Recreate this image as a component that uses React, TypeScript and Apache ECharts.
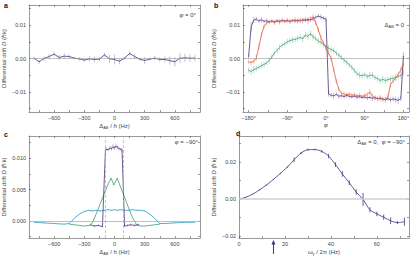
import React, { useEffect, useRef } from "react";
import * as echarts from "echarts";

const FONT = "Liberation Sans, Arial, Helvetica, sans-serif";
const PURPLE = "#4b2d7a";
const ORANGE = "#e8583c";
const GREEN = "#3b9a6d";
const TEAL = "#2a9cbf";
const PURPLE_ERR = "#b7a8d2";
const ORANGE_ERR = "#f3ad9b";
const GREEN_ERR = "#a6d6bd";
const TEAL_ERR = "#9fd3e6";

// ---------- Panel a: phi = 0 ----------
const aDetuning = [-800, -750, -700, -650, -600, -550, -500, -450, -400, -350, -300, -250, -200, -150, -100, -50, 0, 50, 100, 150, 200, 250, 300, 350, 400, 450, 500, 550, 600, 650, 700, 750, 800];
const aDrift = [0.0001, -0.001, 0.0, 0.0006, 0.0013, 0.0003, 0.0007, 0.0006, 0.0001, -0.0001, -0.0005, -0.0001, -0.0003, -0.0002, 0.0011, -0.0001, -0.0003, -0.0008, 0.0001, 0.0015, 0.0006, -0.0002, -0.0006, -0.0002, 0.0001, -0.0003, -0.0003, -0.0006, -0.001, 0.0001, 0.0002, 0.0001, 0.0001];
const aError = [0.0005, 0.0006, 0.0006, 0.0008, 0.0007, 0.0008, 0.0009, 0.0006, 0.0004, 0.0005, 0.0005, 0.0008, 0.0009, 0.0006, 0.0006, 0.0012, 0.0015, 0.0008, 0.0005, 0.0006, 0.0007, 0.0005, 0.001, 0.0005, 0.0006, 0.0007, 0.0009, 0.0012, 0.0014, 0.0015, 0.0012, 0.0011, 0.0009];

// ---------- Panel b: Delta_AB = 0 ----------
const bPhi = [-180, -174, -168, -162, -156, -150, -144, -138, -132, -126, -120, -114, -108, -102, -96, -90, -84, -78, -72, -66, -60, -54, -48, -42, -36, -30, -24, -18, -12, -6, 0, 6, 12, 18, 24, 30, 36, 42, 48, 54, 60, 66, 72, 78, 84, 90, 96, 102, 108, 114, 120, 126, 132, 138, 144, 150, 156, 162, 168, 174, 180];
const bPurple = [
  0.0005, 0.0095, 0.0115, 0.0118, 0.0112, 0.0116, 0.0111, 0.0113, 0.0109, 0.0112,
  0.0110, 0.0113, 0.0111, 0.0114, 0.0112, 0.0113, 0.0111, 0.0114, 0.0112, 0.0115,
  0.0113, 0.0116, 0.0114, 0.0117, 0.0115, 0.0119, 0.0123, 0.0127, 0.0124, 0.0121,
  0.0118, -0.0106, -0.0110, -0.0112, -0.0107, -0.0113, -0.0111, -0.0114, -0.0110, -0.0113,
  -0.0115, -0.0112, -0.0116, -0.0114, -0.0117, -0.0115, -0.0118, -0.0116, -0.0119, -0.0117,
  -0.0120, -0.0118, -0.0121, -0.0123, -0.0120, -0.0124, -0.0121, -0.0123, -0.0125, -0.0120,
  0.0008,
];
const bPurpleErr = [
  0.0006, 0.0015, 0.0009, 0.0007, 0.0006, 0.0008, 0.0005, 0.0007, 0.0006, 0.0005,
  0.0006, 0.0005, 0.0007, 0.0006, 0.0005, 0.0006, 0.0007, 0.0005, 0.0006, 0.0005,
  0.0006, 0.0005, 0.0006, 0.0007, 0.0006, 0.0008, 0.0006, 0.0007, 0.0008, 0.0006,
  0.0007, 0.0008, 0.0007, 0.0009, 0.0006, 0.0008, 0.0007, 0.0006, 0.0007, 0.0006,
  0.0005, 0.0006, 0.0007, 0.0006, 0.0005, 0.0006, 0.0007, 0.0006, 0.0008, 0.0007,
  0.0006, 0.0008, 0.0007, 0.0009, 0.0006, 0.0008, 0.0007, 0.0009, 0.0010, 0.0008,
  0.0012,
];
const bOrange = [
  -0.0010, -0.0012, -0.0009, 0.0002, 0.0035, 0.0072, 0.0096, 0.0107, 0.0110, 0.0112,
  0.0107, 0.0112, 0.0109, 0.0114, 0.0111, 0.0115, 0.0110, 0.0113, 0.0116, 0.0110,
  0.0115, 0.0112, 0.0118, 0.0113, 0.0120, 0.0124, 0.0108, 0.0086, 0.0063, 0.0046,
  0.0031, 0.0016, 0.0001, -0.0034, -0.0068, -0.0092, -0.0104, -0.0106, -0.0109, -0.0106,
  -0.0110, -0.0108, -0.0112, -0.0110, -0.0113, -0.0111, -0.0108, -0.0100, -0.0112, -0.0118,
  -0.0121, -0.0120, -0.0123, -0.0122, -0.0115, -0.0078, -0.0068, -0.0058, -0.0047, -0.0034,
  -0.0017,
];
const bOrangeErr = [
  0.0007, 0.0008, 0.0006, 0.0009, 0.0008, 0.0007, 0.0006, 0.0008, 0.0007, 0.0006,
  0.0007, 0.0006, 0.0008, 0.0007, 0.0006, 0.0007, 0.0008, 0.0006, 0.0007, 0.0006,
  0.0007, 0.0008, 0.0007, 0.0009, 0.0008, 0.0010, 0.0008, 0.0007, 0.0008, 0.0006,
  0.0007, 0.0006, 0.0008, 0.0007, 0.0008, 0.0007, 0.0006, 0.0007, 0.0008, 0.0006,
  0.0007, 0.0006, 0.0008, 0.0007, 0.0006, 0.0008, 0.0007, 0.0009, 0.0007, 0.0006,
  0.0007, 0.0008, 0.0006, 0.0007, 0.0009, 0.0008, 0.0007, 0.0008, 0.0007, 0.0009,
  0.0008,
];
const bGreen = [
  -0.0035, -0.0039, -0.0033, -0.0030, -0.0026, -0.0021, -0.0018, -0.0013, -0.0006, 0.0005,
  0.0016, 0.0024, 0.0033, 0.0040, 0.0044, 0.0050, 0.0053, 0.0056, 0.0057, 0.0060,
  0.0063, 0.0059, 0.0070, 0.0066, 0.0075, 0.0064, 0.0060, 0.0052, 0.0049, 0.0042,
  0.0036, 0.0031, 0.0027, 0.0024, 0.0016, 0.0010, 0.0003, -0.0005, -0.0011, -0.0019,
  -0.0026, -0.0036, -0.0045, -0.0050, -0.0052, -0.0048, -0.0054, -0.0051, -0.0049, -0.0057,
  -0.0060, -0.0066, -0.0062, -0.0066, -0.0063, -0.0061, -0.0059, -0.0057, -0.0054, -0.0050,
  -0.0042,
];
const bGreenErr = [
  0.0008, 0.0009, 0.0012, 0.0008, 0.0007, 0.0009, 0.0008, 0.0007, 0.0009, 0.0008,
  0.0007, 0.0008, 0.0009, 0.0007, 0.0008, 0.0009, 0.0008, 0.0010, 0.0008, 0.0009,
  0.0008, 0.0010, 0.0009, 0.0011, 0.0009, 0.0010, 0.0008, 0.0009, 0.0008, 0.0009,
  0.0008, 0.0009, 0.0008, 0.0009, 0.0008, 0.0007, 0.0008, 0.0009, 0.0008, 0.0007,
  0.0008, 0.0009, 0.0008, 0.0010, 0.0008, 0.0009, 0.0008, 0.0010, 0.0009, 0.0008,
  0.0009, 0.0008, 0.0010, 0.0009, 0.0008, 0.0009, 0.0008, 0.0009, 0.0008, 0.0010,
  0.0009,
];

// ---------- Panel c: phi = -90 ----------
const cPurpleX = [-240, -200, -160, -120, -90, -75, -60, -45, -30, -15, 0, 15, 30, 45, 60, 75, 100, 130, 160, 200, 240];
const cPurpleY = [-0.0006, -0.0008, -0.0007, -0.0009, 0.0113, 0.0114, 0.0113, 0.0116, 0.0115, 0.0118, 0.0116, 0.0119, 0.0117, 0.0115, 0.0114, 0.0113, -0.0008, -0.0007, -0.0006, -0.0007, -0.0006];
const cPurpleErr = [0.0002, 0.0002, 0.0002, 0.0002, 0.0003, 0.0003, 0.0002, 0.0003, 0.0003, 0.0004, 0.0003, 0.0004, 0.0003, 0.0003, 0.0002, 0.0003, 0.0002, 0.0002, 0.0002, 0.0002, 0.0002];
const cGreenX = [-450, -400, -350, -300, -250, -220, -180, -140, -100, -60, -33, -7, 27, 60, 100, 140, 180, 220, 260, 300, 350, 400, 450];
const cGreenY = [-0.0005, -0.0006, -0.0007, -0.0008, -0.0007, -0.0003, 0.0012, 0.0028, 0.0044, 0.006, 0.0068, 0.0057, 0.0068, 0.0054, 0.0038, 0.0021, 0.0005, -0.0006, -0.0008, -0.0008, -0.0007, -0.0006, -0.0005];
const cTealX = [-800, -700, -600, -500, -450, -420, -380, -340, -300, -260, -220, -180, -140, -100, -60, -30, 0, 30, 60, 100, 140, 180, 220, 260, 300, 340, 380, 420, 450, 500, 600, 700, 800];
const cTealY = [-0.0002, -0.0003, -0.0004, -0.0005, -0.0004, 0.0001, 0.0007, 0.0012, 0.0015, 0.0017, 0.0016, 0.0017, 0.0016, 0.0017, 0.0018, 0.0017, 0.0018, 0.0017, 0.0018, 0.0017, 0.0017, 0.0018, 0.0017, 0.0017, 0.0016, 0.0012, 0.0007, 0.0001, -0.0004, -0.0004, -0.0003, -0.0002, -0.0002];
const cTealErr = [0.0001, 0.0001, 0.0001, 0.0001, 0.0001, 0.0001, 0.0001, 0.0001, 0.0001, 0.0001, 0.0001, 0.0001, 0.0001, 0.0001, 0.0001, 0.0001, 0.0001, 0.0001, 0.0001, 0.0001, 0.0001, 0.0001, 0.0001, 0.0001, 0.0001, 0.0001, 0.0001, 0.0001, 0.0001, 0.0001, 0.0001, 0.0001, 0.0001];
const cWindow = [-90, 90];

// ---------- Panel d: Delta_AB = 0, phi = -90 ----------
const dFreq = [0, 3, 6, 9, 12, 15, 18, 21, 24, 27, 30, 33, 36, 39, 42, 45, 48, 51, 54, 57, 60, 63, 66, 69, 72];
const dDrift = [0, 0.001, 0.0027, 0.005, 0.0076, 0.0106, 0.0138, 0.0172, 0.0212, 0.0248, 0.0266, 0.0267, 0.0257, 0.0232, 0.0186, 0.0135, 0.0088, 0.0038, -0.0002, -0.0058, -0.008, -0.0098, -0.0117, -0.0127, -0.0122];
const dError = [0, 0.0002, 0.0002, 0.0003, 0.0003, 0.0003, 0.0004, 0.0004, 0.0012, 0.0006, 0.0006, 0.0005, 0.0007, 0.0012, 0.0012, 0.0015, 0.0013, 0.0015, 0.0035, 0.0014, 0.0012, 0.0015, 0.0018, 0.0008, 0.0022];
const dArrowFreq = 15;

// ---------- Ticks and labels ----------
const detuningLabels = [-600, -300, 0, 300, 600];
const detuningTicks = [-750, -600, -450, -300, -150, 0, 150, 300, 450, 600, 750];
const phiLabels = [-180, -90, 0, 90, 180];
const phiTicks = [-180, -135, -90, -45, 0, 45, 90, 135, 180];
const freqLabels = [0, 20, 40, 60];
const freqTicks = [0, 10, 20, 30, 40, 50, 60, 70];
const abDriftLabels = [-0.01, 0, 0.01];
const abDriftTicks = [-0.015, -0.01, -0.005, 0, 0.005, 0.01, 0.015];
const cDriftLabels = [0, 0.005, 0.01];
const cDriftTicks = [-0.0025, 0, 0.0025, 0.005, 0.0075, 0.01, 0.0125];
const dDriftLabels = [-0.02, 0, 0.02];
const dDriftTicks = [-0.02, -0.01, 0, 0.01, 0.02, 0.03];

const AX = "#555";
const TXT = "#444";
const minus = (v: number) => (v < 0 ? "\u2212" : "");
const fmt2 = (v: number) => minus(v) + Math.abs(v).toFixed(2);
const fmt3 = (v: number) => minus(v) + Math.abs(v).toFixed(3);
const fmtInt = (v: number) => minus(v) + Math.round(Math.abs(v));
const fmtDeg = (v: number) => minus(v) + Math.round(Math.abs(v)) + "\u00b0";

const rich = {
  i: { fontStyle: "italic", fontSize: 6, color: TXT, fontFamily: FONT },
  s: { fontSize: 4, color: TXT, fontFamily: FONT, verticalAlign: "bottom", padding: [3, 0, 0, 0] },
};
const nameStyle = { fontSize: 6, color: TXT, fontFamily: FONT, rich };
const Y_NAME = "Differential drift {i|D} (\u210fk)";

function xAxes(grid: number, min: number, max: number, ticks: number[], labels: number[], fmt: any, name: string) {
  const common = {
    type: "value", gridIndex: grid, min, max,
    splitLine: { show: false },
    axisLine: { show: true, onZero: false, lineStyle: { color: AX, width: 0.6 } },
    axisTick: { show: true, inside: true, length: 2, customValues: ticks, lineStyle: { color: AX, width: 0.6 } },
  };
  return [
    {
      ...common, position: "bottom",
      axisLabel: { show: true, customValues: labels, formatter: fmt, fontSize: 5.5, color: TXT, fontFamily: FONT, margin: 3 },
      name, nameLocation: "middle", nameGap: 10, nameTextStyle: nameStyle,
    },
    { ...common, position: "top", axisLabel: { show: false } },
  ];
}

function yAxes(grid: number, min: number, max: number, ticks: number[], labels: number[], fmt: any, gap: number) {
  const common = {
    type: "value", gridIndex: grid, min, max,
    splitLine: { show: false },
    axisLine: { show: true, onZero: false, lineStyle: { color: AX, width: 0.6 } },
    axisTick: { show: true, inside: true, length: 2, customValues: ticks, lineStyle: { color: AX, width: 0.6 } },
  };
  return [
    {
      ...common, position: "left",
      axisLabel: { show: true, customValues: labels, formatter: fmt, fontSize: 5.5, color: TXT, fontFamily: FONT, margin: 3 },
      name: Y_NAME, nameLocation: "middle", nameGap: gap, nameTextStyle: nameStyle,
    },
    { ...common, position: "right", axisLabel: { show: false } },
  ];
}

function zip(xs: number[], ys: number[]) {
  return xs.map((x, i) => [x, ys[i]]);
}

function lineSeries(grid: number, xs: number[], ys: number[], color: string, extra: any = {}) {
  return {
    type: "line", xAxisIndex: grid * 2, yAxisIndex: grid * 2,
    data: zip(xs, ys), symbol: "none", silent: true, z: 3,
    lineStyle: { color, width: 0.8 }, itemStyle: { color },
    ...extra,
  };
}

function errSeries(grid: number, xs: number[], ys: number[], es: number[], color: string) {
  return {
    type: "custom", xAxisIndex: grid * 2, yAxisIndex: grid * 2, silent: true, z: 2,
    data: xs.map((x, i) => [x, ys[i], es[i]]),
    encode: { x: 0, y: 1 },
    renderItem: (_p: any, api: any) => {
      const x = api.value(0), y = api.value(1), e = api.value(2);
      const p1 = api.coord([x, y - e]);
      const p2 = api.coord([x, y + e]);
      return {
        type: "line",
        shape: { x1: p1[0], y1: p1[1], x2: p2[0], y2: p2[1] },
        style: { stroke: color, lineWidth: 0.8 },
      };
    },
  };
}

function zeroLine(color = "#9a9a9a", width = 0.6, extra: any[] = []) {
  return {
    silent: true, symbol: "none", label: { show: false },
    lineStyle: { color, width, type: "solid" },
    data: [{ yAxis: 0 }, ...extra],
  };
}

function textEl(text: string, x: number, y: number, align: string, size = 6, bold = false) {
  return {
    type: "text", x, y, silent: true,
    style: {
      text, fill: bold ? "#111" : TXT, fontSize: size, fontFamily: FONT,
      fontWeight: bold ? "bold" : "normal", align, verticalAlign: "middle", rich,
    },
  };
}

export default function App() {
  const ref = useRef<HTMLDivElement>(null);
  useEffect(() => {
    if (!ref.current) return;
    const chart = echarts.init(ref.current, null, { renderer: "svg" });
    const option: any = {
      animation: false,
      grid: [
        { left: 29, top: 5, width: 171, height: 107 },
        { left: 243, top: 5, width: 166, height: 107 },
        { left: 29, top: 136, width: 171, height: 102 },
        { left: 239, top: 136, width: 170, height: 102 },
      ],
      xAxis: [
        ...xAxes(0, -850, 850, detuningTicks, detuningLabels, fmtInt, "\u0394{s|AB} / {i|h} (Hz)"),
        ...xAxes(1, -193, 193, phiTicks, phiLabels, fmtDeg, "{i|\u03c6}"),
        ...xAxes(2, -850, 850, detuningTicks, detuningLabels, fmtInt, "\u0394{s|AB} / {i|h} (Hz)"),
        ...xAxes(3, 0, 74, freqTicks, freqLabels, fmtInt, "{i|\u03c9}{s|y} / 2\u03c0 (Hz)"),
      ],
      yAxis: [
        ...yAxes(0, -0.016, 0.016, abDriftTicks, abDriftLabels, fmt2, 22),
        ...yAxes(1, -0.016, 0.016, abDriftTicks, abDriftLabels, fmt2, 26),
        ...yAxes(2, -0.0027, 0.0135, cDriftTicks, cDriftLabels, fmt3, 22),
        ...yAxes(3, -0.021, 0.034, dDriftTicks, dDriftLabels, fmt2, 22),
      ],
      series: [
        // a
        lineSeries(0, [], [], "#999", { markLine: zeroLine(), z: 1 }),
        errSeries(0, aDetuning, aDrift, aError, PURPLE_ERR),
        lineSeries(0, aDetuning, aDrift, PURPLE),
        // b
        lineSeries(1, [], [], "#999", { markLine: zeroLine(), z: 1 }),
        errSeries(1, bPhi, bPurple, bPurpleErr, PURPLE_ERR),
        errSeries(1, bPhi, bGreen, bGreenErr, GREEN_ERR),
        errSeries(1, bPhi, bOrange, bOrangeErr, ORANGE_ERR),
        lineSeries(1, bPhi, bPurple, PURPLE),
        lineSeries(1, bPhi, bGreen, GREEN),
        lineSeries(1, bPhi, bOrange, ORANGE),
        // c
        lineSeries(2, [], [], "#999", {
          z: 1,
          markLine: zeroLine("#b0b0b0", 0.8, [
            { xAxis: cWindow[0], lineStyle: { type: [3, 2], color: "#aaa", width: 0.7 } },
            { xAxis: cWindow[1], lineStyle: { type: [3, 2], color: "#aaa", width: 0.7 } },
          ]),
        }),
        errSeries(2, cTealX, cTealY, cTealErr, TEAL_ERR),
        errSeries(2, cPurpleX, cPurpleY, cPurpleErr, PURPLE_ERR),
        lineSeries(2, cTealX, cTealY, TEAL),
        lineSeries(2, cGreenX, cGreenY, GREEN),
        lineSeries(2, cPurpleX, cPurpleY, PURPLE),
        // d
        lineSeries(3, [], [], "#999", { markLine: zeroLine("#cfcfcf", 1.6), z: 1 }),
        errSeries(3, dFreq, dDrift, dError, PURPLE),
        lineSeries(3, dFreq, dDrift, PURPLE, { smooth: 0.3 }),
      ],
    };
    chart.setOption(option);

    const ax = chart.convertToPixel({ xAxisIndex: 6 }, dArrowFreq) as number;
    chart.setOption({
      graphic: [
        textEl("a", 4, 5, "left", 7, true),
        textEl("b", 214, 5, "left", 7, true),
        textEl("c", 4, 134, "left", 7, true),
        textEl("d", 236, 133, "left", 7, true),
        textEl("{i|\u03c6} = 0\u00b0", 196, 15, "right"),
        textEl("\u0394{s|AB} = 0", 404, 25, "right"),
        textEl("{i|\u03c6} = \u221290\u00b0", 198, 142, "right"),
        textEl("\u0394{s|AB} = 0,  {i|\u03c6} = \u221290\u00b0", 405, 142, "right"),
        {
          type: "line", silent: true,
          shape: { x1: ax, y1: 254, x2: ax, y2: 243 },
          style: { stroke: PURPLE, lineWidth: 1 },
        },
        {
          type: "polygon", silent: true,
          shape: { points: [[ax - 2, 244.5], [ax + 2, 244.5], [ax, 240]] },
          style: { fill: PURPLE },
        },
      ],
    });
    return () => chart.dispose();
  }, []);
  return (
    <div
      ref={ref}
      style={{ position: "absolute", left: 0, top: 0, width: 415, height: 262, background: "#fff" }}
    />
  );
}
